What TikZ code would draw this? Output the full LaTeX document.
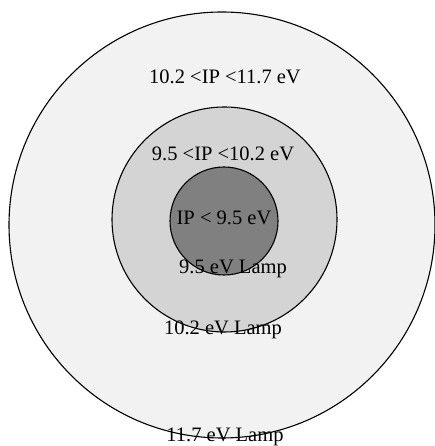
\documentclass[tikz,border=0pt]{standalone}
\usepackage{fontspec}
\setmainfont{Liberation Serif}
\usepackage{tikz}
\usetikzlibrary{positioning}

\begin{document}
\begin{tikzpicture}[x=1pt, y=1pt,
    zone/.style = {draw=black, line width=1.1pt},
    lbl/.style = {inner sep=0pt, font=\fontsize{20.5}{24}\selectfont}]
    \useasboundingbox (0,0) rectangle (435,446);
    % lamps, largest first
    \filldraw[zone, fill=black!5] (222,221) circle (213);
    \filldraw[zone, fill=black!17] (224.5,226.5) circle (112.5);
    \filldraw[zone, fill=black!50] (224,225) circle (54);
    % ranges
    \node[lbl] (r117) at (225,369) {10.2 <IP <11.7 eV};
    \node[lbl] (r102) at (223,292) {9.5 <IP <10.2 eV};
    \node[lbl] (r95) at (224,228) {IP < 9.5 eV};
    % lamp names
    \node[lbl] (l95) at (233,177) {9.5 eV Lamp};
    \node[lbl] (l102) at (223,116) {10.2 eV Lamp};
    \node[lbl] (l117) at (225,9) {11.7 eV Lamp};
\end{tikzpicture}
\end{document}
